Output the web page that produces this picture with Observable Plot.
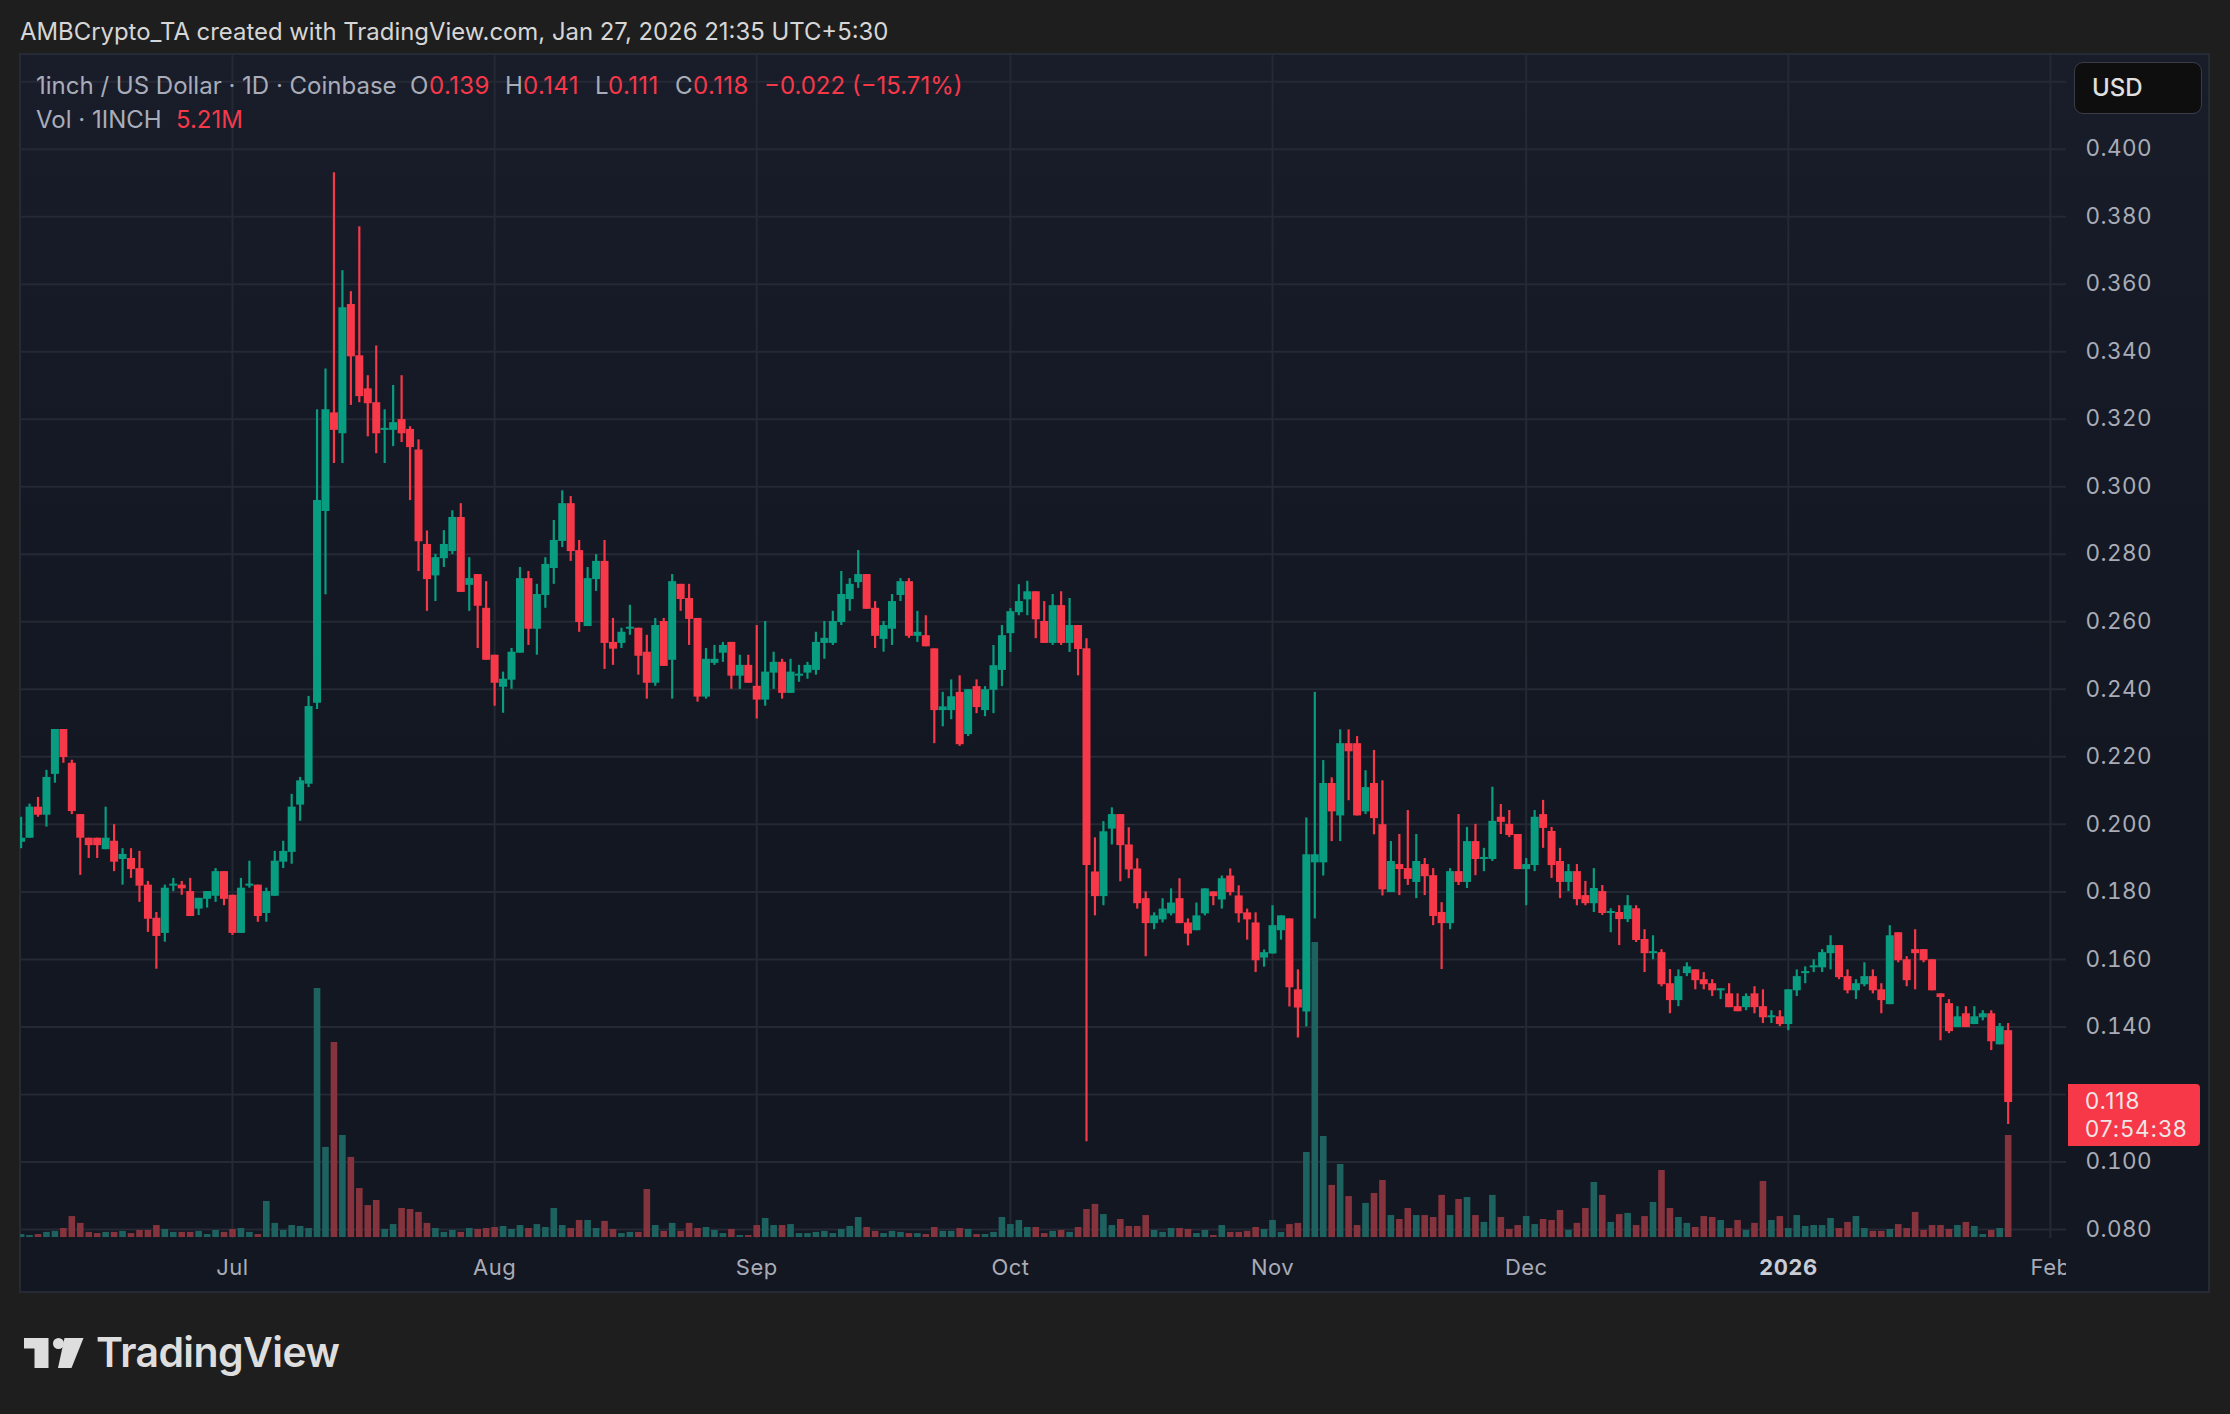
<!DOCTYPE html>
<html>
<head>
<meta charset="utf-8">
<script src="https://cdn.jsdelivr.net/npm/d3@7"></script>
<script src="https://cdn.jsdelivr.net/npm/@observablehq/plot@0.6"></script>
<style>
html,body{margin:0;padding:0;background:#1e1e1e;}
#page{position:relative;width:2230px;height:1414px;overflow:hidden;background:#1e1e1e;font-family:Inter,"Noto Sans",sans-serif;}
#panel{position:absolute;left:19px;top:53px;width:2191px;height:1240px;box-sizing:border-box;border:2px solid #262a35;background:linear-gradient(180deg,#191d2a 0%,#151925 30%,#131722 60%,#131722 100%);}
#chart{position:absolute;left:0;top:53px;}
#chart text{letter-spacing:0.45px;}
.t{position:absolute;white-space:nowrap;line-height:1;transform:translateY(-50%);}
#header{left:20px;top:32px;font-size:23.9px;color:#d6d6d6;}
.g{color:#a9adb9;font-size:24px;}
.r{color:#f63849;font-size:24px;}
#usd{position:absolute;left:2074px;top:62px;width:128px;height:52px;box-sizing:border-box;background:#0e0e0e;border:1.5px solid #3a3d47;border-radius:9px;}
#box{position:absolute;left:2068px;width:132px;height:62px;background:#f63849;border-radius:0 4px 4px 0;}
#mask{position:absolute;left:2066px;top:1250px;width:10px;height:36px;background:#131722;}
#logo{position:absolute;left:0;top:1320px;}
#word{left:96px;top:1352px;font-size:41px;font-weight:600;color:#dedede;letter-spacing:-0.6px;}
</style>
</head>
<body>
<div id="page">
  <div id="panel"></div>
  <div id="header" class="t">AMBCrypto_TA created with TradingView.com, Jan 27, 2026 21:35 UTC+5:30</div>
  <div id="holder"></div>
  <div class="t g" style="left:36px;top:86px">1inch / US Dollar · 1D · Coinbase</div>
  <div class="t g" style="left:410px;top:86px">O</div><div class="t r" style="left:429px;top:86px;letter-spacing:.4px">0.139</div>
  <div class="t g" style="left:505px;top:86px">H</div><div class="t r" style="left:523px;top:86px;letter-spacing:.4px">0.141</div>
  <div class="t g" style="left:595px;top:86px">L</div><div class="t r" style="left:608px;top:86px;letter-spacing:.4px">0.111</div>
  <div class="t g" style="left:675px;top:86px">C</div><div class="t r" style="left:693px;top:86px;letter-spacing:.4px">0.118</div>
  <div class="t r" style="left:764px;top:86px">−0.022 (−15.71%)</div>
  <div class="t g" style="left:36px;top:120px">Vol · 1INCH</div>
  <div class="t r" style="left:176px;top:120px">5.21M</div>
  <div id="usd"></div>
  <div class="t" style="left:2092px;top:88px;font-size:24px;font-weight:500;color:#e0e0e0">USD</div>
  <div id="mask"></div>
  <svg id="logo" width="90" height="60" viewBox="0 1320 90 60">
    <path fill="#dedede" d="M24 1338H48.5V1368H34.5V1348.5H24Z"/>
    <circle fill="#dedede" cx="58.5" cy="1343.5" r="5.5"/>
    <path fill="#dedede" d="M64.5 1338H83.5L71.5 1368H58Z"/>
  </svg>
  <div id="word" class="t">TradingView</div>
</div>
<script>
const firstDay = "2025-06-06";
const opens = [
.1947,.1959,.2051,.2027,.2148,.2281,.2181,.2029,.1959,.1959,.1925,.1950,.1896,.1899,.1869,.1820,.1722,.1677,.1817,.1820,.1801,.1749,.1778,.1787,.1860,
.1790,.1677,.1817,.1820,.1736,.1787,.1888,.1917,.2057,.2119,.2359,.2927,.3219,.3157,.3540,.3388,.3290,.3249,.3167,.3167,.3199,.3170,.3109,.2829,.2736,
.2787,.2808,.2909,.2708,.2740,.2640,
.2501,.2406,.2427,.2507,.2728,.2578,.2678,.2758,.2838,.2950,.2811,.2586,.2725,.2779,.2539,.2536,.2578,.2581,.2510,.2418,.2601,.2486,.2711,.2669,.2610,.2377,.2477,.2507,.2539,.2439,.2471,
.2409,.2368,.2448,.2480,.2388,.2439,.2448,.2456,.2536,.2536,.2598,.2666,.2716,.2740,.2640,.2548,.2578,.2678,.2719,.2557,.2559,.2520,.2337,.2337,.2391,.2266,.2408,.2337,.2397,.2456,
.2565,.2627,.2665,.2689,.2601,.2536,.2648,.2536,.2589,.2520,.1859,.1786,.1986,.2029,.1939,.1868,.1780,.1706,.1717,.1735,.1780,.1708,.1685,.1735,.1800,.1776,.1847,.1788,.1738,.1708,.1604,
.1616,.1685,.1720,.1510,.1444,.1886,.1886,.2121,.2025,.2239,.2239,.2037,.2121,.1999,.1798,
.1881,.1869,.1828,.1881,.1848,.1739,.1706,.1860,.1828,.1949,.1896,.1896,.2021,.2000,.1970,
.1866,.1878,.2029,.1979,.1890,.1828,.1860,.1789,.1765,.1801,.1736,.1739,.1718,.1750,.1659,.1617,.1620,.1528,.1478,.1558,.1569,.1540,.1528,.1507,.1498,.1460,.1457,.1498,.1460,.1427,.1430,
.1407,.1507,.1558,.1575,.1575,.1617,.1641,.1549,.1507,.1525,.1549,.1510,.1466,.1679,.1599,.1629,.1629,.1599,.1498,.1469,.1398,.1439,.1407,.1427,.1439,.1347,.1389];
const highs = [
.2021,.2060,.2080,.2160,.2281,.2281,.2190,.2029,.1959,.1959,.2051,.1999,.1928,.1928,.1920,.1831,.1739,.1820,.1840,.1831,.1840,.1781,.1801,.1869,.1860,
.1790,.1840,.1891,.1820,.1811,.1920,.1950,.2089,.2139,.2379,.3228,.3349,.3930,.3640,.3578,.3770,.3329,.3417,.3228,.3300,.3329,.3178,.3139,.2869,.2800,
.2870,.2929,.2950,.2790,.2740,.2719,
.2501,.2451,.2521,.2761,.2749,.2711,.2790,.2900,.2988,.2971,.2841,.2761,.2799,.2841,.2610,.2581,.2649,.2581,.2560,.2610,.2610,.2740,.2711,.2711,.2610,.2521,.2530,.2539,.2539,.2501,.2501,
.2589,.2601,.2510,.2489,.2489,.2471,.2480,.2569,.2601,.2631,.2749,.2728,.2811,.2740,.2660,.2601,.2681,.2728,.2728,.2631,.2618,.2520,.2391,.2428,.2440,.2399,.2428,.2408,.2530,.2589,
.2639,.2710,.2720,.2689,.2660,.2681,.2689,.2669,.2589,.2550,.1960,.2008,.2049,.2029,.1990,.1898,.1800,.1738,.1780,.1809,.1839,.1720,.1767,.1809,.1800,.1847,.1868,.1818,.1749,.1738,.1628,
.1759,.1729,.1720,.1569,.2019,.2391,.2189,.2138,.2280,.2280,.2260,.2159,.2219,.2129,.1949,
.1970,.2041,.1970,.1899,.1869,.1768,.1869,.2029,.1991,.2000,.1929,.2110,.2059,.2041,.1970,
.1899,.2041,.2071,.1991,.1929,.1881,.1881,.1831,.1869,.1819,.1750,.1759,.1789,.1759,.1688,.1670,.1629,.1570,.1569,.1590,.1569,.1561,.1540,.1513,.1528,.1498,.1498,.1519,.1510,.1448,.1448,
.1510,.1569,.1578,.1599,.1629,.1670,.1641,.1569,.1540,.1590,.1569,.1528,.1700,.1679,.1608,.1688,.1629,.1599,.1498,.1481,.1460,.1460,.1460,.1448,.1448,.1410,.1410];
const lows = [
.1928,.1959,.2021,.1992,.2122,.2181,.2029,.1849,.1899,.1899,.1925,.1860,.1820,.1840,.1769,.1680,.1571,.1651,.1801,.1790,.1727,.1730,.1752,.1769,.1759,
.1671,.1677,.1811,.1710,.1710,.1787,.1869,.1882,.2009,.2109,.2340,.2680,.3069,.3069,.3241,.3249,.3148,.3098,.3069,.3119,.3131,.2959,.2749,.2631,.2660,
.2761,.2799,.2687,.2631,.2521,.2486,
.2350,.2329,.2400,.2507,.2530,.2501,.2640,.2711,.2820,.2779,.2569,.2586,.2690,.2459,.2471,.2521,.2560,.2442,.2371,.2409,.2468,.2371,.2631,.2530,.2362,.2371,.2471,.2480,.2400,.2400,.2418,
.2312,.2350,.2400,.2371,.2388,.2421,.2430,.2442,.2489,.2530,.2589,.2631,.2699,.2637,.2521,.2510,.2530,.2660,.2551,.2539,.2526,.2239,.2289,.2310,.2231,.2260,.2328,.2319,.2328,.2408,
.2509,.2618,.2618,.2550,.2536,.2530,.2530,.2509,.2440,.1060,.1729,.1759,.1939,.1830,.1839,.1749,.1608,.1688,.1708,.1729,.1706,.1640,.1685,.1729,.1759,.1749,.1788,.1708,.1657,.1561,.1577,
.1616,.1657,.1459,.1367,.1400,.1720,.1847,.1949,.1949,.2070,.2025,.2029,.1969,.1788,.1798,
.1789,.1819,.1780,.1789,.1700,.1570,.1688,.1819,.1810,.1848,.1860,.1890,.1970,.1961,.1866,
.1759,.1860,.1929,.1840,.1780,.1801,.1759,.1759,.1739,.1730,.1679,.1641,.1709,.1650,.1561,.1599,.1519,.1439,.1460,.1549,.1510,.1510,.1490,.1481,.1457,.1445,.1448,.1439,.1410,.1410,.1401,
.1389,.1490,.1528,.1561,.1561,.1569,.1540,.1498,.1481,.1519,.1498,.1439,.1466,.1590,.1519,.1510,.1590,.1507,.1359,.1380,.1398,.1398,.1407,.1418,.1330,.1347,.1111];
const closes = [
.1959,.2051,.2027,.2139,.2281,.2198,.2038,.1959,.1937,.1937,.1959,.1888,.1911,.1866,.1817,.1719,.1668,.1811,.1823,.1809,.1727,.1781,.1801,.1860,.1778,
.1677,.1811,.1823,.1727,.1801,.1891,.1920,.2051,.2129,.2349,.2959,.3228,.3167,.3530,.3385,.3267,.3246,.3157,.3173,.3190,.3157,.3116,.2837,.2725,.2790,
.2829,.2909,.2687,.2728,.2646,.2486,
.2418,.2430,.2510,.2728,.2578,.2681,.2770,.2841,.2950,.2808,.2598,.2728,.2779,.2536,.2519,.2569,.2584,.2498,.2418,.2589,.2468,.2719,.2666,.2607,.2377,.2489,.2489,.2530,.2439,.2471,.2418,
.2368,.2451,.2480,.2388,.2451,.2445,.2471,.2539,.2551,.2601,.2681,.2711,.2740,.2637,.2557,.2589,.2660,.2719,.2557,.2569,.2526,.2337,.2348,.2378,.2236,.2399,.2346,.2399,.2470,.2559,
.2630,.2660,.2689,.2606,.2536,.2648,.2536,.2589,.2518,.1878,.1786,.1978,.2029,.1937,.1865,.1765,.1706,.1729,.1749,.1767,.1706,.1675,.1729,.1809,.1786,.1839,.1798,.1735,.1717,.1596,.1620,
.1700,.1729,.1516,.1456,.1910,.1910,.2121,.2037,.2239,.2215,.2025,.2109,.2017,.1806,.1890,
.1866,.1837,.1890,.1845,.1727,.1706,.1860,.1828,.1949,.1896,.1902,.2009,.2006,.1967,.1866,
.1881,.2021,.1988,.1878,.1828,.1860,.1777,.1765,.1810,.1736,.1742,.1718,.1759,.1656,.1617,.1623,.1525,.1478,.1549,.1578,.1537,.1525,.1507,.1513,.1457,.1445,.1490,.1457,.1427,.1433,.1407,
.1510,.1549,.1564,.1581,.1620,.1641,.1546,.1507,.1528,.1549,.1507,.1478,.1670,.1596,.1537,.1617,.1596,.1507,.1487,.1386,.1430,.1398,.1430,.1439,.1356,.1401,.1176];
const volumes = [
.15,.10,.15,.26,.31,.46,1.07,.72,.26,.20,.26,.26,.31,.20,.36,.36,.61,.41,.26,.26,.26,.31,.15,.36,.26,
.41,.46,.26,.15,1.84,.72,.36,.61,.56,.46,12.72,4.60,9.96,5.21,4.09,2.50,1.63,1.89,.41,.66,1.48,1.43,1.28,.72,.46,
.26,.36,.26,.46,.41,.46,.51,.56,.41,.61,.46,.66,.51,1.48,.61,.46,.87,.87,.46,.82,.41,.20,.26,.26,2.45,.61,.31,.72,.31,.72,.46,.51,.36,.20,.41,.10,.10,
.61,.97,.61,.61,.66,.20,.20,.26,.31,.20,.41,.56,1.02,.51,.31,.20,.31,.26,.20,.20,.15,.51,.31,.31,.46,.41,.15,.15,.26,1.02,
.66,.87,.51,.51,.20,.31,.36,.26,.51,1.43,1.69,1.17,.61,.92,.56,.56,1.12,.36,.26,.46,.46,.41,.20,.36,.10,.61,.26,.26,.31,.51,.41,
.87,.26,.66,.72,4.34,15.07,5.16,2.66,3.73,2.09,.61,1.74,2.25,2.91,1.12,
.92,1.48,1.12,1.12,1.02,2.15,1.12,1.94,2.04,1.12,.77,2.15,1.02,.41,.61,
1.07,.66,.92,.87,1.38,.36,.72,1.48,2.81,2.15,.77,1.17,1.23,.61,1.07,1.79,3.42,1.48,1.02,.72,.51,1.07,1.02,.87,.46,.87,.36,.72,2.86,.87,1.07,
.46,1.12,.56,.61,.61,.97,.46,.77,1.07,.46,.31,.31,.41,.66,.46,1.28,.36,.61,.61,.41,.61,.77,.56,.15,.36,.46,5.21];
const priceTicks = [.08,.10,.14,.16,.18,.20,.22,.24,.26,.28,.30,.32,.34,.36,.38,.40];
const gridPrices = [...priceTicks,.12,.42];
const monthTicks = ["2025-07-01","2025-08-01","2025-09-01","2025-10-01","2025-11-01","2025-12-01","2026-02-01"].map(s=>new Date(s+"T00:00Z"));
const yearTick = [new Date("2026-01-01T00:00Z")];
const gridDates = [...monthTicks,...yearTick];
const lastPrice = 0.118;

const UP="#089c80", DOWN="#f63849", UPV="#1e6260", DOWNV="#85333c", GRID="#252934", AXIS="#a9acb6";
const start=new Date(firstDay+"T00:00Z");
const rows=opens.map((o,i)=>({date:d3.utcDay.offset(start,i),o,h:highs[i],l:lows[i],c:closes[i],v:volumes[i],up:closes[i]>=o}));
const volBase=.07763, volPerM=.0058;   // volume pane is an overlay on the price scale
const volPrice=v=>volBase+v*volPerM;

const chart=Plot.plot({
  width:2230,height:1240,
  marginLeft:20,marginRight:164,marginTop:2,marginBottom:55,
  style:{background:"transparent",fontFamily:"Inter, sans-serif",fontSize:"22px"},
  x:{type:"utc",domain:[new Date("2025-06-05T22:19Z"),new Date("2026-02-02T21:36Z")]},
  y:{type:"linear",domain:[.07733,.42775]},
  marks:[
    Plot.gridY({ticks:gridPrices,stroke:GRID,strokeOpacity:1,strokeWidth:2}),
    Plot.gridX({ticks:gridDates,stroke:GRID,strokeOpacity:1,strokeWidth:2}),
    Plot.ruleX(rows,{x:"date",y1:volBase,y2:d=>volPrice(d.v),stroke:d=>d.up?UPV:DOWNV,strokeWidth:6.6,clip:true}),
    Plot.ruleX(rows,{x:"date",y1:"l",y2:"h",stroke:d=>d.up?UP:DOWN,strokeWidth:2.2,clip:true}),
    Plot.ruleX(rows,{x:"date",y1:"o",y2:"c",stroke:d=>d.up?UP:DOWN,strokeWidth:8,clip:true}),
    Plot.axisY({anchor:"right",ticks:priceTicks,tickFormat:d3.format(".3f"),tickSize:0,tickPadding:19,label:null,fill:AXIS,fontSize:22.5}),
    Plot.axisX({anchor:"bottom",ticks:monthTicks,tickFormat:d3.utcFormat("%b"),tickSize:0,tickPadding:21,label:null,fill:AXIS,fontSize:22}),
    Plot.axisX({anchor:"bottom",ticks:yearTick,tickFormat:()=>"2026",tickSize:0,tickPadding:21,label:null,fill:"#c9ccd4",fontSize:22,fontWeight:700})
  ]
});
chart.id="chart";
chart.style.position="absolute";
document.getElementById("holder").appendChild(chart);

// last-price tag, placed from the chart's own y scale
const py=53+chart.scale("y").apply(lastPrice);
const page=document.getElementById("page");
const box=document.createElement("div");box.id="box";box.style.top=(py-17)+"px";page.appendChild(box);
const mk=(txt,top)=>{const e=document.createElement("div");e.className="t";e.textContent=txt;e.style.cssText=`left:2085px;top:${top}px;font-size:22.5px;color:#f0e6e6;letter-spacing:1px`;page.appendChild(e);};
mk(d3.format(".3f")(lastPrice),py);
mk("07:54:38",py+28);
</script>
</body>
</html>
